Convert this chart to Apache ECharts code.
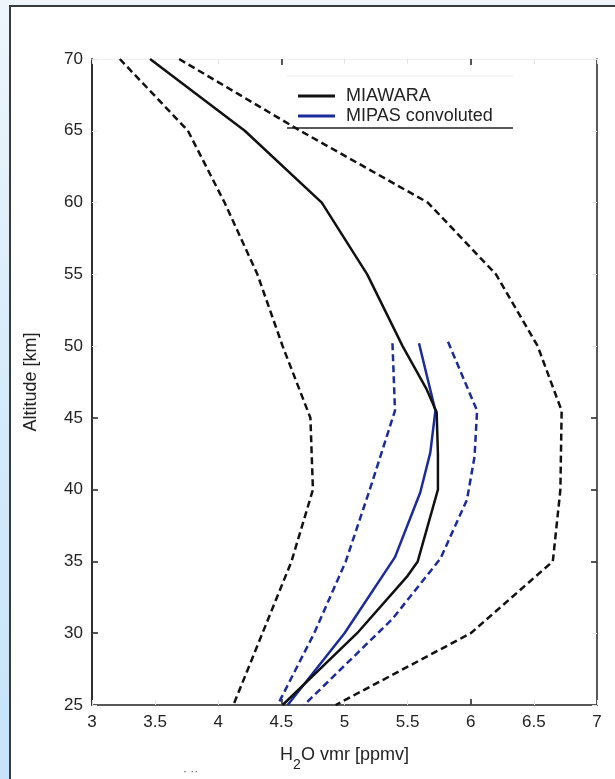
<!DOCTYPE html>
<html>
<head>
<meta charset="utf-8">
<script src="https://cdn.jsdelivr.net/npm/echarts@6/dist/echarts.min.js"></script>
<style>
  html, body { margin: 0; padding: 0; }
  #outer { position: relative; width: 615px; height: 779px;
    background: linear-gradient(to bottom, #eef6fc 0%, #d6ebfb 50%, #c6e3fa 100%); overflow: hidden; }
  #panel { position: absolute; left: 9px; top: 5px; width: 620px; height: 790px;
    background: #ffffff; border-left: 2px solid #3a3a3a; border-top: 2px solid #3a3a3a; }
  #chart { position: absolute; left: 0; top: 0; width: 615px; height: 779px; }
</style>
</head>
<body>
<div id="outer"><div id="panel"></div><div id="chart"></div></div>
<script>
// ---- data ----
const xTickLabels = [3, 3.5, 4, 4.5, 5, 5.5, 6, 6.5, 7];
const yTickLabels = [25, 30, 35, 40, 45, 50, 55, 60, 65, 70];
const xDarkTicks = [4.5, 6];
const yDarkTicksLeft = [30, 35, 40, 45];
const yDarkTicksRight = [35, 40, 45];

const miawaraAlt = [70, 65, 60, 55, 50, 47, 45.4, 42.5, 40, 35, 34, 30, 25];
const miawaraVmr = [3.46, 4.21, 4.82, 5.18, 5.46, 5.65, 5.73, 5.74, 5.74, 5.58, 5.50, 5.10, 4.51];

const miawaraLowAlt = [70, 65, 60, 55, 50, 45, 40, 35, 30, 25];
const miawaraLowVmr = [3.22, 3.76, 4.05, 4.31, 4.51, 4.73, 4.75, 4.58, 4.35, 4.12];

const miawaraHighAlt = [70, 65, 60, 55, 50, 45.5, 40, 35, 30, 25];
const miawaraHighVmr = [3.69, 4.65, 5.66, 6.20, 6.53, 6.72, 6.71, 6.65, 6.00, 4.93];

const mipasAlt = [50.2, 45.5, 42.6, 39.8, 35.3, 30, 25];
const mipasVmr = [5.59, 5.72, 5.68, 5.60, 5.40, 5.00, 4.55];

const mipasLowAlt = [50.2, 45.5, 40, 35, 30, 25];
const mipasLowVmr = [5.38, 5.40, 5.20, 5.01, 4.76, 4.47];

const mipasHighAlt = [50.3, 45.5, 42.3, 39.3, 35.2, 31, 25];
const mipasHighVmr = [5.82, 6.05, 6.03, 5.97, 5.76, 5.38, 4.68];

function pairs(vmr, alt) { return alt.map((a, i) => [vmr[i], a]); }

const BLACK = '#111111';
const BLUE = '#1b2c9a';
const FONT = 'Liberation Sans, Arial, sans-serif';

const chart = echarts.init(document.getElementById('chart'), null, { renderer: 'canvas' });

function faintX(pos) {
  return { type: 'value', min: 3, max: 7, interval: 0.5, position: pos,
    axisLine: { show: pos === 'top', lineStyle: { color: '#f0f0f0', width: 1 } },
    axisTick: { show: true, inside: true, length: 5, lineStyle: { color: '#e4e4e4' } },
    axisLabel: { show: false }, splitLine: { show: false } };
}
function darkX(pos) {
  return { type: 'value', min: 3, max: 7, position: pos,
    axisLine: { show: false },
    axisTick: { show: true, inside: true, length: 6, customValues: xDarkTicks, lineStyle: { color: '#222', width: 1.5 } },
    axisLabel: { show: false }, splitLine: { show: false } };
}
function faintY(pos) {
  return { type: 'value', min: 25, max: 70, interval: 5, position: pos,
    axisLine: { show: false },
    axisTick: { show: true, inside: true, length: 5, lineStyle: { color: '#e4e4e4' } },
    axisLabel: { show: false }, splitLine: { show: false } };
}
function darkY(pos, vals) {
  return { type: 'value', min: 25, max: 70, position: pos,
    axisLine: { show: true, lineStyle: { color: '#222', width: 1.5 } },
    axisTick: { show: true, inside: true, length: 6, customValues: vals, lineStyle: { color: '#222', width: 1.5 } },
    axisLabel: { show: false }, splitLine: { show: false } };
}

const option = {
  backgroundColor: 'transparent',
  animation: false,
  textStyle: { fontFamily: FONT },
  grid: { left: 92, right: 18, top: 59, bottom: 74, containLabel: false },
  xAxis: [
    { type: 'value', min: 3, max: 7, interval: 0.5, position: 'bottom',
      axisLine: { show: true, lineStyle: { color: '#222', width: 1.5 } },
      axisTick: { show: false },
      axisLabel: { show: true, customValues: xTickLabels, fontSize: 17, color: '#222', margin: 9, fontFamily: FONT },
      splitLine: { show: false },
      name: '{m|H}{s|2}{m|O vmr [ppmv]}', nameLocation: 'middle', nameGap: 33,
      nameTextStyle: { fontFamily: FONT, color: '#222',
        rich: { m: { fontSize: 18, fontFamily: FONT, color: '#222' },
                s: { fontSize: 14, fontFamily: FONT, color: '#222', padding: [20, 0, 0, 0] } } } },
    faintX('top'), faintX('bottom'), darkX('bottom'), darkX('top')
  ],
  yAxis: [
    { type: 'value', min: 25, max: 70, interval: 5, position: 'left',
      axisLine: { show: true, lineStyle: { color: '#222', width: 1.5 } },
      axisTick: { show: false },
      axisLabel: { show: true, customValues: yTickLabels, fontSize: 17, color: '#222', margin: 9, fontFamily: FONT },
      splitLine: { show: false },
      name: 'Altitude [km]', nameLocation: 'middle', nameGap: 52, nameRotate: 90,
      nameTextStyle: { fontSize: 18, color: '#222', fontFamily: FONT } },
    faintY('left'), faintY('right'), darkY('left', yDarkTicksLeft), darkY('right', yDarkTicksRight)
  ],
  legend: {
    show: true, orient: 'vertical', left: 293, top: 82, itemGap: 2,
    itemWidth: 37, itemHeight: 3, icon: 'rect',
    data: ['MIAWARA', 'MIPAS convoluted'],
    textStyle: { fontSize: 18, color: '#222', fontFamily: FONT, padding: [0, 0, 0, 6] }
  },
  graphic: [
    { type: 'line', shape: { x1: 287, y1: 128, x2: 513, y2: 128 }, style: { stroke: '#222', lineWidth: 1.5 } },
    { type: 'line', shape: { x1: 287, y1: 76, x2: 513, y2: 76 }, style: { stroke: '#f0f0f0', lineWidth: 1 } },
    { type: 'text', left: 183, top: 766, style: { text: '· ··', fill: '#555', fontSize: 12, fontFamily: FONT } }
  ],
  series: [
    { name: 'MIAWARA', type: 'line', data: pairs(miawaraVmr, miawaraAlt), symbol: 'none',
      lineStyle: { color: BLACK, width: 2.5 }, itemStyle: { color: BLACK }, z: 5 },
    { name: 'MIAWARA low', type: 'line', data: pairs(miawaraLowVmr, miawaraLowAlt), symbol: 'none',
      lineStyle: { color: BLACK, width: 2.5, type: [7, 4] }, itemStyle: { color: BLACK } },
    { name: 'MIAWARA high', type: 'line', data: pairs(miawaraHighVmr, miawaraHighAlt), symbol: 'none',
      lineStyle: { color: BLACK, width: 2.5, type: [7, 4] }, itemStyle: { color: BLACK } },
    { name: 'MIPAS convoluted', type: 'line', data: pairs(mipasVmr, mipasAlt), symbol: 'none',
      lineStyle: { color: BLUE, width: 2.5 }, itemStyle: { color: BLUE }, z: 4 },
    { name: 'MIPAS low', type: 'line', data: pairs(mipasLowVmr, mipasLowAlt), symbol: 'none',
      lineStyle: { color: BLUE, width: 2.5, type: [7, 4] }, itemStyle: { color: BLUE } },
    { name: 'MIPAS high', type: 'line', data: pairs(mipasHighVmr, mipasHighAlt), symbol: 'none',
      lineStyle: { color: BLUE, width: 2.5, type: [7, 4] }, itemStyle: { color: BLUE } }
  ]
};
chart.setOption(option);
</script>
</body>
</html>
